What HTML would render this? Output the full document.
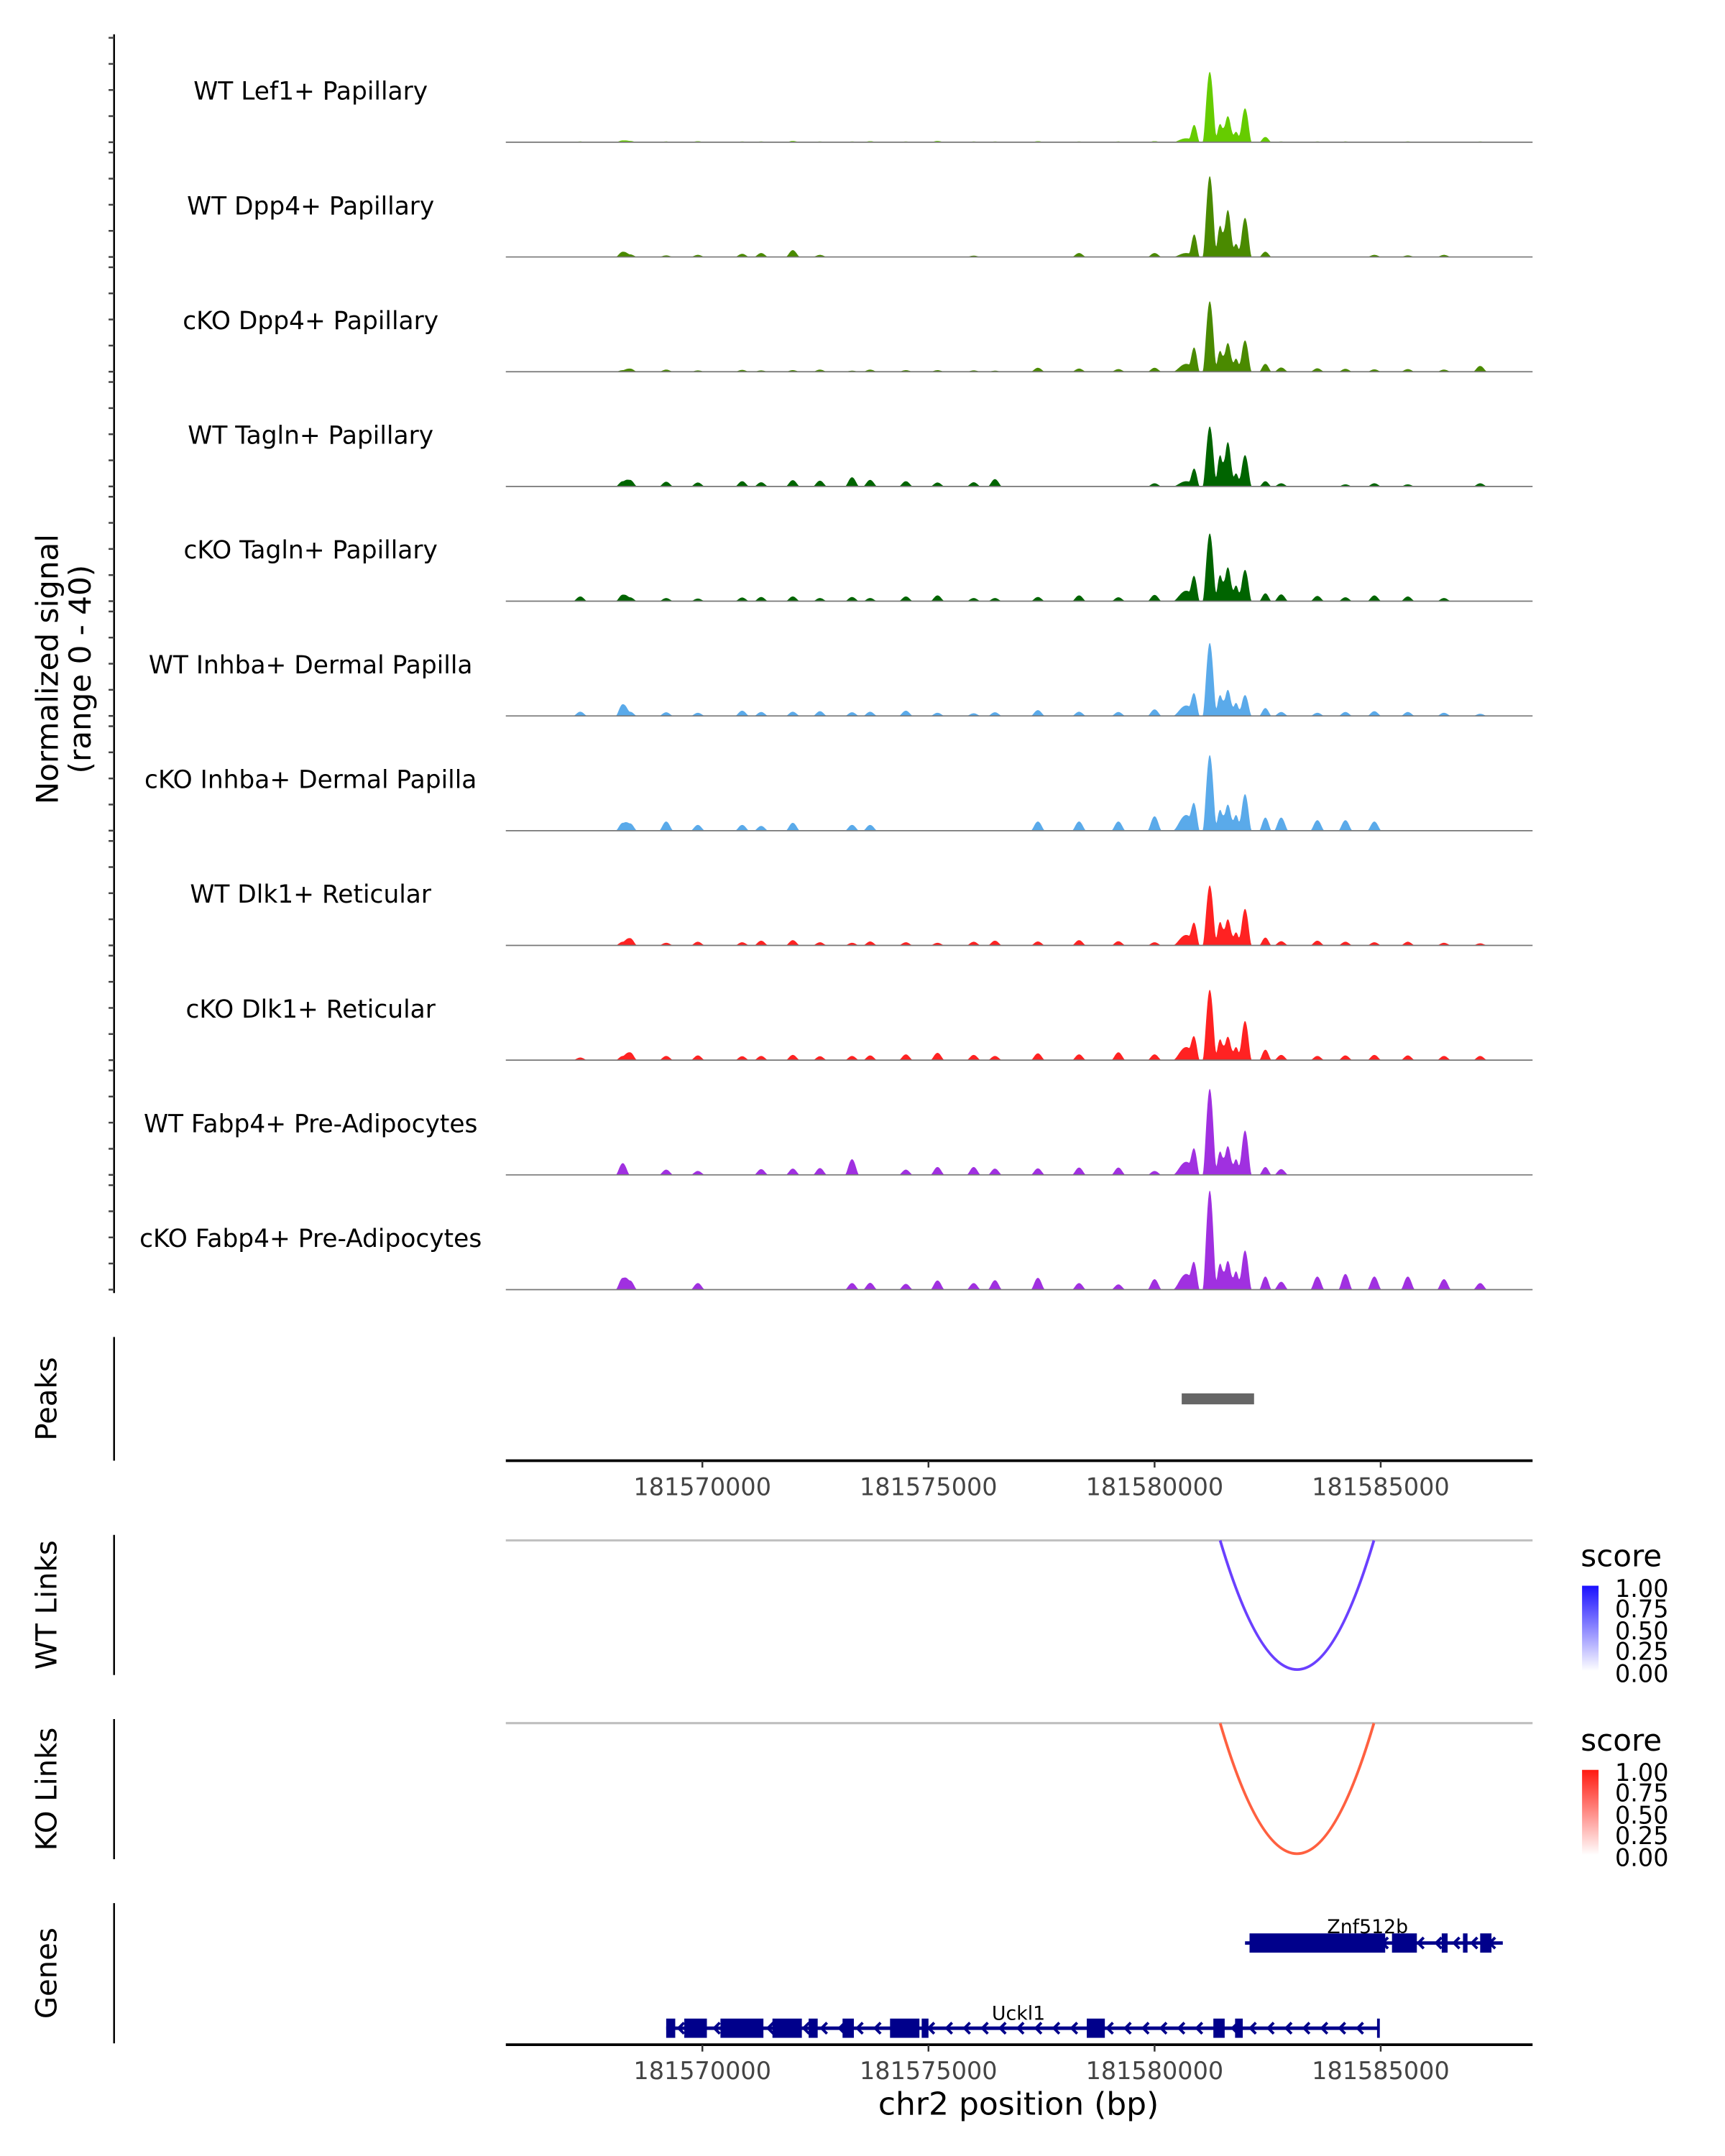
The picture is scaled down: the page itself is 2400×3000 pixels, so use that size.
<!DOCTYPE html>
<html><head><meta charset="utf-8"><style>
html,body{margin:0;padding:0;background:#fff}
svg{display:block}
text{font-family:"DejaVu Sans","Liberation Sans",sans-serif}
</style></head><body>
<svg id="chart" width="2400" height="3000" viewBox="0 0 1255 1569" preserveAspectRatio="none" xmlns="http://www.w3.org/2000/svg">
<rect width="1255" height="1569" fill="#fff"/>
<g id="tracks"></g>
<line x1="83" y1="25" x2="83" y2="941" stroke="#000" stroke-width="1.3"/>
<g id="yticks"></g>
<text transform="translate(42,487) rotate(-90)" text-anchor="middle" font-size="22">Normalized signal</text>
<text transform="translate(66,487) rotate(-90)" text-anchor="middle" font-size="22">(range 0 - 40)</text>

<line x1="83" y1="973" x2="83" y2="1063" stroke="#000" stroke-width="1.3"/>
<text transform="translate(41,1018) rotate(-90)" text-anchor="middle" font-size="21">Peaks</text>
<g id="peaks"></g>
<g id="axis1"></g>

<line x1="83" y1="1117" x2="83" y2="1219" stroke="#000" stroke-width="1.3"/>
<text transform="translate(41,1168) rotate(-90)" text-anchor="middle" font-size="21">WT Links</text>
<line x1="368" y1="1121" x2="1115" y2="1121" stroke="#bfbfbf" stroke-width="1.6"/>
<g id="wtlinks"></g>

<line x1="83" y1="1251" x2="83" y2="1353" stroke="#000" stroke-width="1.3"/>
<text transform="translate(41,1302) rotate(-90)" text-anchor="middle" font-size="21">KO Links</text>
<line x1="368" y1="1254" x2="1115" y2="1254" stroke="#bfbfbf" stroke-width="1.6"/>
<g id="kolinks"></g>

<defs>
<linearGradient id="gb" x1="0" y1="1" x2="0" y2="0"><stop offset="0" stop-color="#fff"/><stop offset="1" stop-color="#1a10ff"/></linearGradient>
<linearGradient id="gr" x1="0" y1="1" x2="0" y2="0"><stop offset="0" stop-color="#fff"/><stop offset="1" stop-color="#ff1a10"/></linearGradient>
</defs>
<g>
<text x="1150" y="1140" font-size="22">score</text>
<rect x="1151" y="1154" width="12" height="62" fill="url(#gb)"/>
<g font-size="17.5"><text x="1175" y="1162">1.00</text><text x="1175" y="1177">0.75</text><text x="1175" y="1193">0.50</text><text x="1175" y="1208">0.25</text><text x="1175" y="1224">0.00</text></g>
</g>
<g>
<text x="1150" y="1274" font-size="22">score</text>
<rect x="1151" y="1288" width="12" height="62" fill="url(#gr)"/>
<g font-size="17.5"><text x="1175" y="1296">1.00</text><text x="1175" y="1311">0.75</text><text x="1175" y="1327">0.50</text><text x="1175" y="1342">0.25</text><text x="1175" y="1358">0.00</text></g>
</g>

<line x1="83" y1="1385" x2="83" y2="1487" stroke="#000" stroke-width="1.3"/>
<text transform="translate(41,1436) rotate(-90)" text-anchor="middle" font-size="21">Genes</text>
<g id="genes"></g>
<g id="axis2"></g>
<text x="741" y="1539" text-anchor="middle" font-size="23">chr2 position (bp)</text>
</svg>
<script>
const NS='http://www.w3.org/2000/svg';
// ---- data ----
const trackNames=['WT Lef1+ Papillary','WT Dpp4+ Papillary','cKO Dpp4+ Papillary','WT Tagln+ Papillary','cKO Tagln+ Papillary','WT Inhba+ Dermal Papilla','cKO Inhba+ Dermal Papilla','WT Dlk1+ Reticular','cKO Dlk1+ Reticular','WT Fabp4+ Pre-Adipocytes','cKO Fabp4+ Pre-Adipocytes'];
const trackColors=['#66cc00','#4a8a00','#4a8a00','#006400','#006400','#5aaaea','#5aaaea','#ff2222','#ff2222','#a030e0','#a030e0'];
// peak positions (kb), widths (kb) and heights (0-40) per track
const mainPos=[181580.7,181580.88,181581.22,181581.45,181581.62,181581.8,181582.0,181582.45];
const mainW=[0.3,0.12,0.16,0.12,0.14,0.12,0.15,0.14];
const mainH=[
 [1.5,6,27,7,10,4,13,2],
 [1.5,8,31,12,18,5,15,2],
 [3,8,27,8,11,5,12,3],
 [2,6,23,12,17,5,12,2],
 [4,8,26,10,13,6,12,3],
 [4,7,28,8,10,5,8,3],
 [6,8,29,8,10,6,14,5],
 [4,7,23,9,10,5,14,3],
 [5,7,27,8,9,5,15,4],
 [5,8,33,9,11,6,17,3],
 [6,8,38,10,11,7,15,5]];
const noisePos=[181567.3,181568.24,181568.4,181569.2,181569.9,181570.88,181571.3,181572.0,181572.6,181573.31,181573.71,181574.5,181575.2,181576.0,181576.47,181577.42,181578.33,181579.2,181580.0,181582.8,181583.6,181584.22,181584.86,181585.6,181586.4,181587.2];
const noiseH=[
 [0.3,0.7,0.5,0.3,0.4,0.3,0.3,0.5,0.3,0.3,0.4,0.3,0.5,0.3,0.3,0.4,0.3,0.3,0.4,0.3,0.3,0.3,0.2,0.3,0.2,0.3],
 [0,2,1,0.6,0.8,1.2,1.5,2.6,0.8,0,0,0,0,0.5,0,0,1.5,0,1.5,0,0,0,0.8,0.6,0.8,0],
 [0,0.6,1.2,0.8,0.5,0.7,0.5,0.6,0.8,0.4,0.8,0.6,0.6,0.5,0.4,1.5,1.2,1,1.5,1.6,1.3,1.1,0.9,1,0.8,2.2],
 [0,2,2.5,1.8,1.5,2,1.6,2.4,2.2,3.5,2.5,2,1.5,1.6,2.8,0,0,0,1.2,1.2,0,0.8,1.2,0.8,0,1.2],
 [1.8,2.5,1.5,1.2,1,1.4,1.6,1.8,1.2,1.6,1.2,1.8,2.2,1.2,1.2,1.6,2.2,1.5,2.4,2.6,2,1.5,2.2,1.8,1.2,0],
 [1.6,4.5,1.6,1.4,1.2,2,1.5,1.6,1.8,1.4,1.6,2,1.2,1,1.4,2.2,1.6,1.5,2.5,1.5,1.2,1.5,1.8,1.5,1.2,0.8],
 [0,3,2.8,3.5,2.2,2.2,1.8,3,0,2.2,2.2,0,0,0,0,3.5,3.5,3.5,5.5,5,4,4,3.5,0,0,0],
 [0,1.4,2.8,1,1.4,1.2,1.8,2,1.2,1,1.5,1.2,1,1.4,1.8,1.5,2,1.6,1.2,1.6,1.8,1.4,1.2,1.4,1,0.8],
 [1,1.6,3,1.6,1.8,1.5,1.6,2,1.5,1.6,1.8,2.2,2.8,2,1.6,2.6,2.2,3,2.2,2,1.6,1.8,2,1.8,1.6,1.6],
 [0,4.5,0,2,1.5,0,2.2,2.4,2.6,6,0,2,3,3,2.4,2.5,2.8,2.8,1.5,2.2,0,0,0,0,0,0],
 [0,4.5,3.5,0,2.5,0,0,0,0,2.5,2.6,2.2,3.5,2.5,3.6,4.5,2.5,2,4,3,5,6,5,5,4,2.5]];
const noiseW=0.16;
const peakRegions=[[181580.6,181582.2]];
const arcWT=[181581.45,181584.85];
const arcKO=[181581.45,181584.85];
const tickVals=[181570000,181575000,181580000,181585000];
const znfExons=[[181582.1,181585.1],[181585.25,181585.8],[181586.35,181586.48],[181586.82,181586.92],[181587.2,181587.45]];
const znfSpan=[181582.0,181587.7];
const ucklExons=[[181569.2,181569.4],[181569.6,181570.1],[181570.4,181571.35],[181571.55,181572.2],[181572.35,181572.55],[181573.1,181573.35],[181574.15,181574.8],[181574.85,181575.0],[181578.5,181578.9],[181581.3,181581.55],[181581.78,181581.95]];
const ucklSpan=[181569.2,181584.95];
// ---- scales ----
const X0=368,X1=1115;
const xs=kb=>511+(kb-181570)*32.9;
const baseY=i=>103.5+i*83.5;
const ys=(i,v)=>baseY(i)-Math.min(v,40)*1.9;
function mk(tag,attrs,parent){const e=document.createElementNS(NS,tag);for(const k in attrs)e.setAttribute(k,attrs[k]);parent.appendChild(e);return e;}
const tracks=document.getElementById('tracks');
const yt=document.getElementById('yticks');
for(let i=0;i<trackNames.length;i++){
  const g=mk('g',{},tracks);
  
  
  const peaks=[];
  mainPos.forEach((p,j)=>peaks.push([p,mainH[i][j],mainW[j]]));
  noisePos.forEach((p,j)=>{if(noiseH[i][j]>0)peaks.push([p,noiseH[i][j],noiseW]);});
  let d='M'+X0+','+baseY(i);
  for(let x=X0;x<=X1;x+=0.5){
    const kb=181570+(x-511)/32.9;let v=0;
    for(const [p,h,w] of peaks){const t=Math.abs(kb-p)/w;if(t<1)v+=h*(1-t*t)*(1-t*t);}
    d+=' L'+x+','+ys(i,v).toFixed(2);
  }
  d+=' L'+X1+','+baseY(i)+' Z';
  const a=mk('path',{d:d,fill:trackColors[i]},g);
  
  
  const bl=mk('line',{x1:X0,x2:X1,y1:baseY(i),y2:baseY(i),stroke:'#777','stroke-width':0.9},g);
  
  
  const lb=mk('text',{x:226,y:baseY(i)-31,'text-anchor':'middle','font-size':'18'},g);
  lb.textContent=trackNames[i];
  
  
  for(let k=0;k<=4;k++){
    const yy=baseY(i)-k*19;
    const tk=mk('line',{x1:79,x2:83,y1:yy,y2:yy,stroke:'#444','stroke-width':1.3},yt);
    
    
  }
}
const pk=document.getElementById('peaks');
peakRegions.forEach(r=>{const e=mk('rect',{x:xs(r[0]),y:1014,width:xs(r[1])-xs(r[0]),height:8,fill:'#666'},pk);
 
 });
function axis(id,y){
  const g=document.getElementById(id);
  mk('line',{x1:X0,x2:X1,y1:y,y2:y,stroke:'#000','stroke-width':2},g);
  tickVals.forEach(v=>{const x=xs(v/1000);
    mk('line',{x1:x,x2:x,y1:y,y2:y+5,stroke:'#333','stroke-width':1.3},g);
    const t=mk('text',{x:x,y:y+25,'text-anchor':'middle','font-size':'17.5',fill:'#444'},g);
    t.textContent=v;
    
    });
}
axis('axis1',1063);axis('axis2',1488);
function arc(id,span,top,depth,color){
  const g=document.getElementById(id);
  const a=xs(span[0]),b=xs(span[1]),m=(a+b)/2;
  const p=mk('path',{d:`M${a},${top} Q${m},${top+2*depth} ${b},${top}`,fill:'none',stroke:color,'stroke-width':2},g);
  
  
}
arc('wtlinks',arcWT,1121,94,'#6a40ff');arc('kolinks',arcKO,1254,95,'#ff6040');
const gn=document.getElementById('genes');
function gene(name,span,exons,y,h,lx,ly){
  const g=mk('g',{},gn);
  
  
  mk('line',{x1:xs(span[0]),x2:xs(span[1]),y1:y,y2:y,stroke:'#00008b','stroke-width':2.5},g);
  for(let x=xs(span[0])+10;x<xs(span[1])-4;x+=13){
    mk('path',{d:`M${x+3},${y-4} L${x-1},${y} L${x+3},${y+4}`,fill:'none',stroke:'#00008b','stroke-width':2},g);
  }
  exons.forEach(e=>mk('rect',{x:xs(e[0]),y:y-h/2,width:Math.max(3,xs(e[1])-xs(e[0])),height:h,fill:'#00008b'},g));
  const t=mk('text',{x:lx,y:ly,'text-anchor':'middle','font-size':'14'},g);t.textContent=name;
}
gene('Znf512b',znfSpan,znfExons,1414,14,995,1407);
gene('Uckl1',ucklSpan,ucklExons,1476,14,741,1470);
mk('line',{x1:xs(ucklSpan[1]),x2:xs(ucklSpan[1]),y1:1469,y2:1483,stroke:'#00008b','stroke-width':2},gn);
</script>
</body></html>
